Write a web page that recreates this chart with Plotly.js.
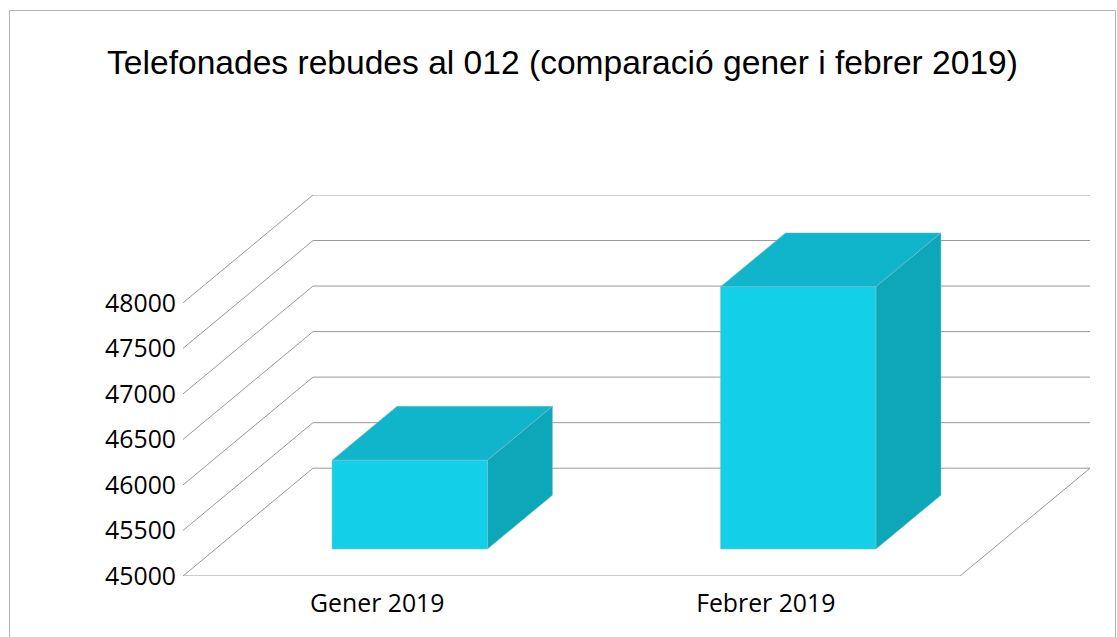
<!DOCTYPE html>
<html><head><meta charset="utf-8">
<script src="https://cdn.plot.ly/plotly-3.0.1.min.js"></script>
<style>html,body{margin:0;padding:0;background:#fff;overflow:hidden}#c{width:1117px;height:637px}</style>
</head><body><div id="c"></div>
<script>
const titleText = "Telefonades rebudes al 012 (comparació gener i febrer 2019)";
const categories = ["Gener 2019", "Febrer 2019"];
const values = [45975, 47880];
const yTicks = [45000, 45500, 46000, 46500, 47000, 47500, 48000];

// oblique projection: depth 0 = front of the floor, depth 1 = back wall
const DEPTH_X = 130 / 388.5, DEPTH_Y = 1184;
const BAR_W = 0.4, D0 = 0.25, D1 = 0.75, BASE = yTicks[0], N = categories.length;
const px = (x, d) => x + d * DEPTH_X;
const py = (v, d) => v + d * DEPTH_Y;
const project = pts => ({x: pts.map(p => px(p[0], p[2])), y: pts.map(p => py(p[1], p[2]))});

const GRID = "#999999";
const traces = [];
function line(pts, w) {
  traces.push(Object.assign({type:"scatter", mode:"lines", line:{color:GRID, width:w||1},
    hoverinfo:"skip", showlegend:false, cliponaxis:false}, project(pts)));
}
function face(pts, color) {
  traces.push(Object.assign({type:"scatter", mode:"lines", fill:"toself", fillcolor:color,
    line:{color:"#7fbcc6", width:0.5}, hoverinfo:"skip", showlegend:false, cliponaxis:false}, project(pts)));
}
yTicks.forEach(v => {
  line([[0, v, 0], [0, v, 1], [N, v, 1]]);
});
line([[0, BASE, 0], [N, BASE, 0], [N, BASE, 1]]);

values.forEach((v, i) => {
  const l = i + 0.5 - BAR_W / 2, r = i + 0.5 + BAR_W / 2;
  face([[l,v,D0],[r,v,D0],[r,v,D1],[l,v,D1],[l,v,D0]], "#10B5CB");
  face([[r,BASE,D0],[r,v,D0],[r,v,D1],[r,BASE,D1],[r,BASE,D0]], "#0EA7BA");
  face([[l,BASE,D0],[r,BASE,D0],[r,v,D0],[l,v,D0],[l,BASE,D0]], "#13D0E8");
});

const mL = 183, mR = 27, mT = 195, mB = 61, W = 1117, H = 637;
const pW = W - mL - mR, pH = H - mT - mB;
const layout = {
  width: W, height: H,
  margin: {l: mL, r: mR, t: mT, b: mB, pad: 0},
  paper_bgcolor: "#fff", plot_bgcolor: "rgba(0,0,0,0)",
  showlegend: false,
  title: {text: titleText, font: {family: "Liberation Sans", size: 33.6, color: "#000"},
    x: 562.5 / W, xanchor: "center", y: 1 - 62 / H, yanchor: "middle"},
  xaxis: {range: [0, N + DEPTH_X], showgrid: false, zeroline: false, showline: false,
    tickmode: "array", tickvals: categories.map((c, i) => i + 0.5), ticktext: categories,
    ticks: "", ticklen: 0, ticklabelstandoff: 10, tickfont: {family: "Open Sans", size: 24.8, color: "#000"}, fixedrange: true},
  yaxis: {range: [BASE, yTicks[yTicks.length - 1] + DEPTH_Y], showgrid: false, zeroline: false, showline: false,
    tickmode: "array", tickvals: yTicks, ticktext: yTicks.map(String),
    ticks: "", ticklen: 0, ticklabelstandoff: 6, tickfont: {family: "Open Sans", size: 24.8, color: "#000"}, fixedrange: true},
  shapes: [{type: "path", xref: "paper", yref: "paper", layer: "below",
    path: "M " + ((9.5 - mL) / pW) + " " + ((H - mB - 650) / pH) +
          " L " + ((9.5 - mL) / pW) + " " + ((H - mB - 10.5) / pH) +
          " L " + ((1115.5 - mL) / pW) + " " + ((H - mB - 10.5) / pH) +
          " L " + ((1115.5 - mL) / pW) + " " + ((H - mB - 650) / pH),
    line: {color: "#b3b3b3", width: 1}}]
};
Plotly.newPlot("c", traces, layout, {displayModeBar: false, staticPlot: true});
</script></body></html>
